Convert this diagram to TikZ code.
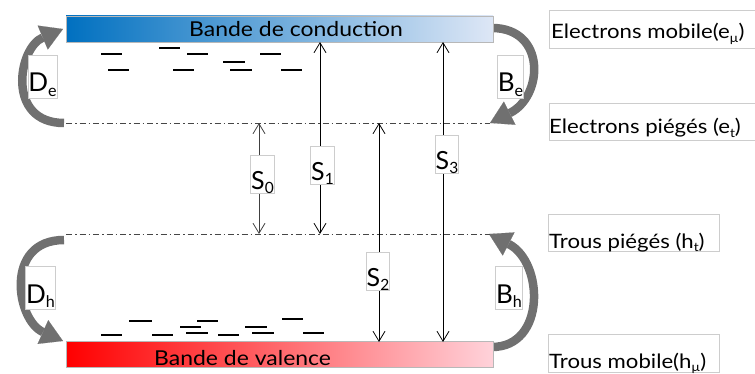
\documentclass[tikz,border=0pt]{standalone}
\usepackage{fontspec}
\setmainfont{Lato}
\newfontfamily\widefont{Lato}[FakeStretch=1.12]
\usetikzlibrary{arrows.meta}
\definecolor{cbL}{RGB}{0,112,192}
\definecolor{cbR}{RGB}{222,231,246}
\definecolor{vbL}{RGB}{255,0,0}
\definecolor{vbR}{RGB}{255,210,218}
\definecolor{boxgray}{RGB}{205,205,205}
\definecolor{arrgray}{RGB}{112,112,112}
\definecolor{lvlgray}{RGB}{70,70,70}
\newcommand\subtxt[1]{\raisebox{-0.16em}{\scalebox{0.62}{#1}}}
\begin{document}
\begin{tikzpicture}[x=1pt,y=-1pt,
  band/.style={draw=black!28, line width=0.6pt, inner sep=0pt, minimum width=427pt, minimum height=26pt},
  bandtext/.style={anchor=base west, inner sep=0pt, font=\widefont\fontsize{20.5}{25}\selectfont},
  lvl/.style={draw=lvlgray, line width=0.7pt, dash pattern=on 6pt off 3pt on 1.5pt off 3pt},
  trap/.style={draw=black, line width=1.6pt},
  sarrow/.style={draw=black, line width=0.8pt, {Straight Barb[length=10pt,width=12pt]}-{Straight Barb[length=10pt,width=12pt]}},
  bigarrow/.style={draw=arrgray, line width=8.5pt, -{Triangle[length=22pt,width=26pt,line width=0.1pt]}},
  slbl/.style={draw=boxgray, fill=white, line width=0.6pt, anchor=base, inner xsep=0.5pt, inner ysep=0.5pt,
    text height=34pt, text depth=3pt, font=\fontsize{25}{28}\selectfont},
  dlbl/.style={draw=boxgray, fill=white, line width=0.6pt, anchor=base, inner xsep=0.5pt, inner ysep=0.5pt,
    text height=36pt, text depth=6pt, font=\fontsize{26}{30}\selectfont},
  rbox/.style={draw=boxgray, line width=0.6pt, anchor=north west, inner sep=0pt},
  rtext/.style={anchor=base west, inner sep=0pt, font=\widefont\fontsize{19.8}{23}\selectfont}
]
\useasboundingbox (0,0) rectangle (755,374);

% curved arrows (behind bands)
\coordinate (deT) at (64,123);  \coordinate (deH) at (63,29);
\coordinate (dhT) at (64,240);  \coordinate (dhH) at (63,341);
\coordinate (beT) at (492,28);  \coordinate (beH) at (490,123);
\coordinate (bhT) at (492,347); \coordinate (bhH) at (489,234);
\draw[bigarrow] (deT) .. controls (6,123) and (18,48) .. (deH);
\draw[bigarrow] (dhT) .. controls (4,240) and (16,320) .. (dhH);
\draw[bigarrow] (beT) .. controls (546,28) and (544,96) .. (beH);
\draw[bigarrow] (bhT) .. controls (546,347) and (544,262) .. (bhH);

% bands
\node[band, left color=cbL, right color=cbR] (cb) at (279.5,29) {};
\node[band, left color=vbL, right color=vbR] (vb) at (279.5,354.5) {};
\node[bandtext] (cbt) at (189,37) {Bande de conduction};
\node[bandtext] (vbt) at (154,365) {Bande de valence};

% trap levels
\coordinate (etL) at (66,123); \coordinate (etR) at (490,123);
\coordinate (htL) at (66,234); \coordinate (htR) at (490,234);
\draw[lvl] (etL) -- (etR);
\draw[lvl] (htL) -- (htR);

% electron traps
\foreach \a/\b/\y in {101/122/54, 108/129/70, 159/180/48, 187/208/54, 173/194/70,
                      223/245/62, 230/252/70, 260/281/54, 281/302/70}
  \draw[trap] (\a,\y) -- (\b,\y);
% hole traps
\foreach \a/\b/\y in {129/152/321, 101/122/335, 152/173/335, 180/201/327, 197/218/321,
                      186/208/333, 218/239/335, 245/267/327, 252/274/333, 282/303/319, 303/324/333}
  \draw[trap] (\a,\y) -- (\b,\y);

% transitions
\coordinate (s0a) at (259,123); \coordinate (s0b) at (259,234);
\coordinate (s1a) at (320,42);  \coordinate (s1b) at (320,234);
\coordinate (s2a) at (379,123); \coordinate (s2b) at (379,342);
\coordinate (s3a) at (443,42);  \coordinate (s3b) at (443,342);
\draw[sarrow, draw=black!75] (s0a) -- (s0b);
\draw[sarrow] (s1a) -- (s1b);
\draw[sarrow] (s2a) -- (s2b);
\draw[sarrow] (s3a) -- (s3b);

\node[slbl] (S0) at (262.5,190) {S\subtxt{0}};
\node[slbl] (S1) at (322.5,181) {S\subtxt{1}};
\node[slbl] (S2) at (378,287) {S\subtxt{2}};
\node[slbl] (S3) at (447,170) {S\subtxt{3}};

\node[dlbl] (De) at (42.5,92) {D\subtxt{e}};
\node[dlbl] (Dh) at (40.5,303) {D\subtxt{h}};
\node[dlbl] (Be) at (510.5,92) {B\subtxt{e}};
\node[dlbl] (Bh) at (509,303) {B\subtxt{h}};

% right legend
\node[rbox, minimum width=230pt, minimum height=38pt] (emb) at (549,10) {};
\node[rbox, minimum width=230pt, minimum height=37pt] (etb) at (549,103) {};
\node[rbox, minimum width=171pt, minimum height=37pt] (htb) at (548,214) {};
\node[rbox, minimum width=171pt, minimum height=38pt] (hmb) at (548,334) {};
\node[rtext] (emt) at (551,39) {Electrons mobile(e\subtxt{µ})};
\node[rtext] (ett) at (549,134) {Electrons piégés (e\subtxt{t})};
\node[rtext] (htt) at (549,248) {Trous piégés (h\subtxt{t})};
\node[rtext] (hmt) at (549,368) {Trous mobile(h\subtxt{µ})};
\end{tikzpicture}
\end{document}
